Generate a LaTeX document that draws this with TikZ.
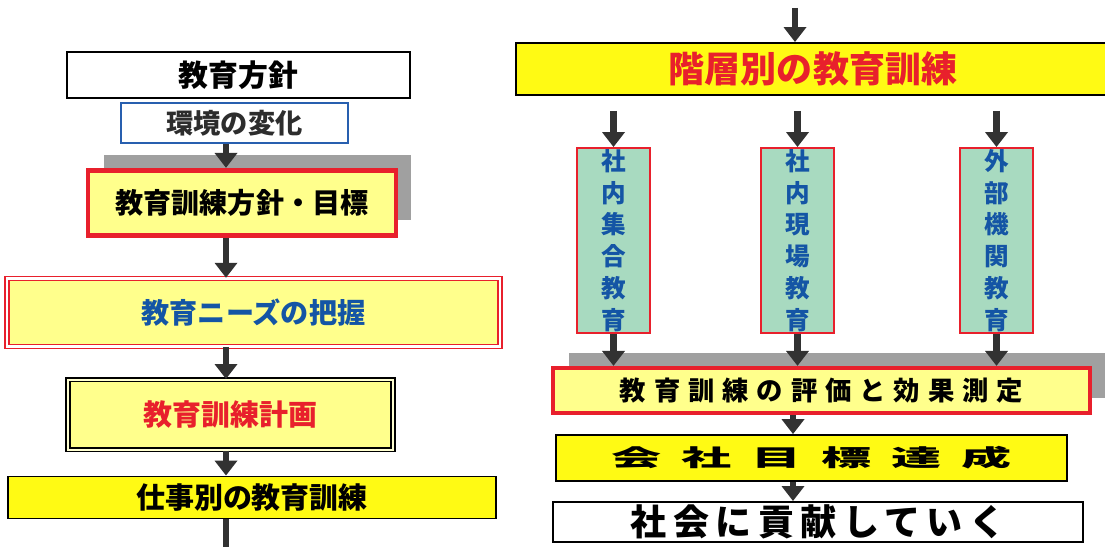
\documentclass[tikz,border=0pt]{standalone}
\usepackage{fontspec}
\usepackage{graphicx}
\usepackage{xcolor}
\usepackage{tikz}
\usetikzlibrary{
    arrows.meta,
    positioning
}
\setmainfont{Noto Sans CJK JP}[BoldFont={Noto Sans CJK JP Black}]

\definecolor{paleyellow}{RGB}{255,255,140}
\definecolor{brightyellow}{RGB}{255,250,20}
\definecolor{boxred}{RGB}{232,32,44}
\definecolor{textblue}{RGB}{20,85,165}
\definecolor{mint}{RGB}{168,218,192}
\definecolor{shadowgray}{RGB}{160,160,160}
\definecolor{arrowgray}{RGB}{50,50,50}
\definecolor{edgeblue}{RGB}{40,95,175}
\definecolor{textgray}{RGB}{45,45,45}

\begin{document}
\begin{tikzpicture}[
    x=0.02cm, y=-0.02cm,
    box_style/.style={
        rectangle,
        inner sep=0pt,
        align=center,
        line width=1.1pt
    },
    shadow_style/.style={
        preaction={fill=shadowgray, transform canvas={xshift=0.31cm, yshift=0.3cm}}
    },
    arrow_style/.style={
        draw=arrowgray,
        line width=3.8pt,
        -{Triangle[width=12.5pt,length=8.5pt]}
    },
    vbox_style/.style={
        box_style,
        draw=boxred,
        fill=mint,
        text=textblue,
        minimum width=1.46cm,
        minimum height=3.7cm,
        font=\fontsize{14}{18.1}\selectfont\bfseries
    }
]

\fill[white] (0,0) rectangle (1105,547);
\useasboundingbox (0,0) rectangle (1105,547);

% --- Left column ---
\node[box_style, draw=black, fill=white, minimum width=6.86cm, minimum height=0.92cm,
      font=\fontsize{17}{18}\selectfont\bfseries] (policy) at (238.5,75) {教育方針};
\node[box_style, draw=edgeblue, fill=white, text=textgray, minimum width=4.54cm, minimum height=0.8cm,
      below=0.06cm of policy, xshift=-0.08cm,
      font=\fontsize{15.5}{17}\selectfont\bfseries] (env) {環境の変化};

% gray backdrop behind the target box
\node[box_style, shadow_style, draw=boxred, line width=2.8pt, fill=paleyellow,
      minimum width=6.16cm, minimum height=1.3cm, below=0.48cm of env, xshift=0.15cm,
      font=\fontsize{16}{18}\selectfont\bfseries] (target) {教育訓練方針・目標};

\node[box_style, draw=boxred, line width=0.7pt, double=white, double distance=1.6pt, fill=paleyellow,
      text=textblue, minimum width=9.86cm, minimum height=1.36cm, below=0.8cm of target, xshift=0.23cm,
      font=\fontsize{16}{18}\selectfont\bfseries] (needs) {教育ニーズの把握};

\node[box_style, draw=black, line width=0.9pt, double=paleyellow!40!white, double distance=1.1pt,
      fill=paleyellow, text=boxred, minimum width=6.5cm, minimum height=1.4cm,
      below=0.64cm of needs, xshift=-0.46cm,
      font=\fontsize{16.5}{18}\selectfont\bfseries] (plan) {教育訓練計画};

\node[box_style, draw=black, fill=brightyellow, minimum width=9.76cm, minimum height=0.84cm,
      below=0.5cm of plan, xshift=0.43cm,
      font=\fontsize{16.5}{18}\selectfont\bfseries] (jobwise) {仕事別の教育訓練};

\coordinate (lx) at (226,0);
\coordinate (lend) at (226,549);

% --- Right column ---
\coordinate (rtop) at (795,8);
\coordinate (rx) at (793,0);

\node[box_style, draw=black, fill=brightyellow, text=boxred, minimum width=11.88cm, minimum height=1.04cm,
      font=\fontsize{20.5}{22}\selectfont\bfseries] (level) at (813,69) {階層別の教育訓練};

\node[vbox_style] (inhouse) at (613.5,240.5) {社\\内\\集\\合\\教\\育};
\node[vbox_style] (onsite) at (797.5,240.5) {社\\内\\現\\場\\教\\育};
\node[vbox_style] (outside) at (996.5,240.5) {外\\部\\機\\関\\教\\育};

\node[box_style, shadow_style, draw=boxred, line width=2.4pt, fill=paleyellow,
      minimum width=10.74cm, minimum height=0.9cm,
      font=\fontsize{15}{16}\selectfont\bfseries\addfontfeature{LetterSpace=30}] (review) at (821.5,390.5) {教育訓練の評価と効果測定};

\node[box_style, draw=black, fill=brightyellow, minimum width=10.22cm, minimum height=0.92cm,
      below=0.38cm of review, xshift=-0.2cm,
      font=\fontsize{15}{16}\selectfont\bfseries\addfontfeature{LetterSpace=40}] (goalmet) {\scalebox{1.9}[0.88]{会社目標達成}};

\node[box_style, draw=black, fill=white, minimum width=10.6cm, minimum height=0.8cm,
      below=0.38cm of goalmet, xshift=0.13cm,
      font=\fontsize{20.5}{21}\selectfont\bfseries\addfontfeature{LetterSpace=18}] (society) {社会に貢献していく};

% --- Edges ---
\draw[arrow_style] (env.south -| lx) -- (target.north -| lx);
\draw[arrow_style] (target.south -| lx) -- (needs.north -| lx);
\draw[arrow_style] (needs.south -| lx) -- (plan.north -| lx);
\draw[arrow_style] (plan.south -| lx) -- (jobwise.north -| lx);
\draw[arrow_style, -] (jobwise.south -| lx) -- (lend);

\draw[arrow_style] (rtop) -- (level.north -| rtop);
\draw[arrow_style, shorten <=0.3cm] (level.south -| inhouse.north) -- (inhouse.north);
\draw[arrow_style, shorten <=0.3cm] (level.south -| onsite.north) -- (onsite.north);
\draw[arrow_style, shorten <=0.3cm] (level.south -| outside.north) -- (outside.north);

\draw[arrow_style] (inhouse.south) -- (inhouse.south |- review.north);
\draw[arrow_style] (onsite.south) -- (onsite.south |- review.north);
\draw[arrow_style] (outside.south) -- (outside.south |- review.north);

\draw[arrow_style] (review.south -| rx) -- (goalmet.north -| rx);
\draw[arrow_style] (goalmet.south -| rx) -- (society.north -| rx);

\end{tikzpicture}
\end{document}
